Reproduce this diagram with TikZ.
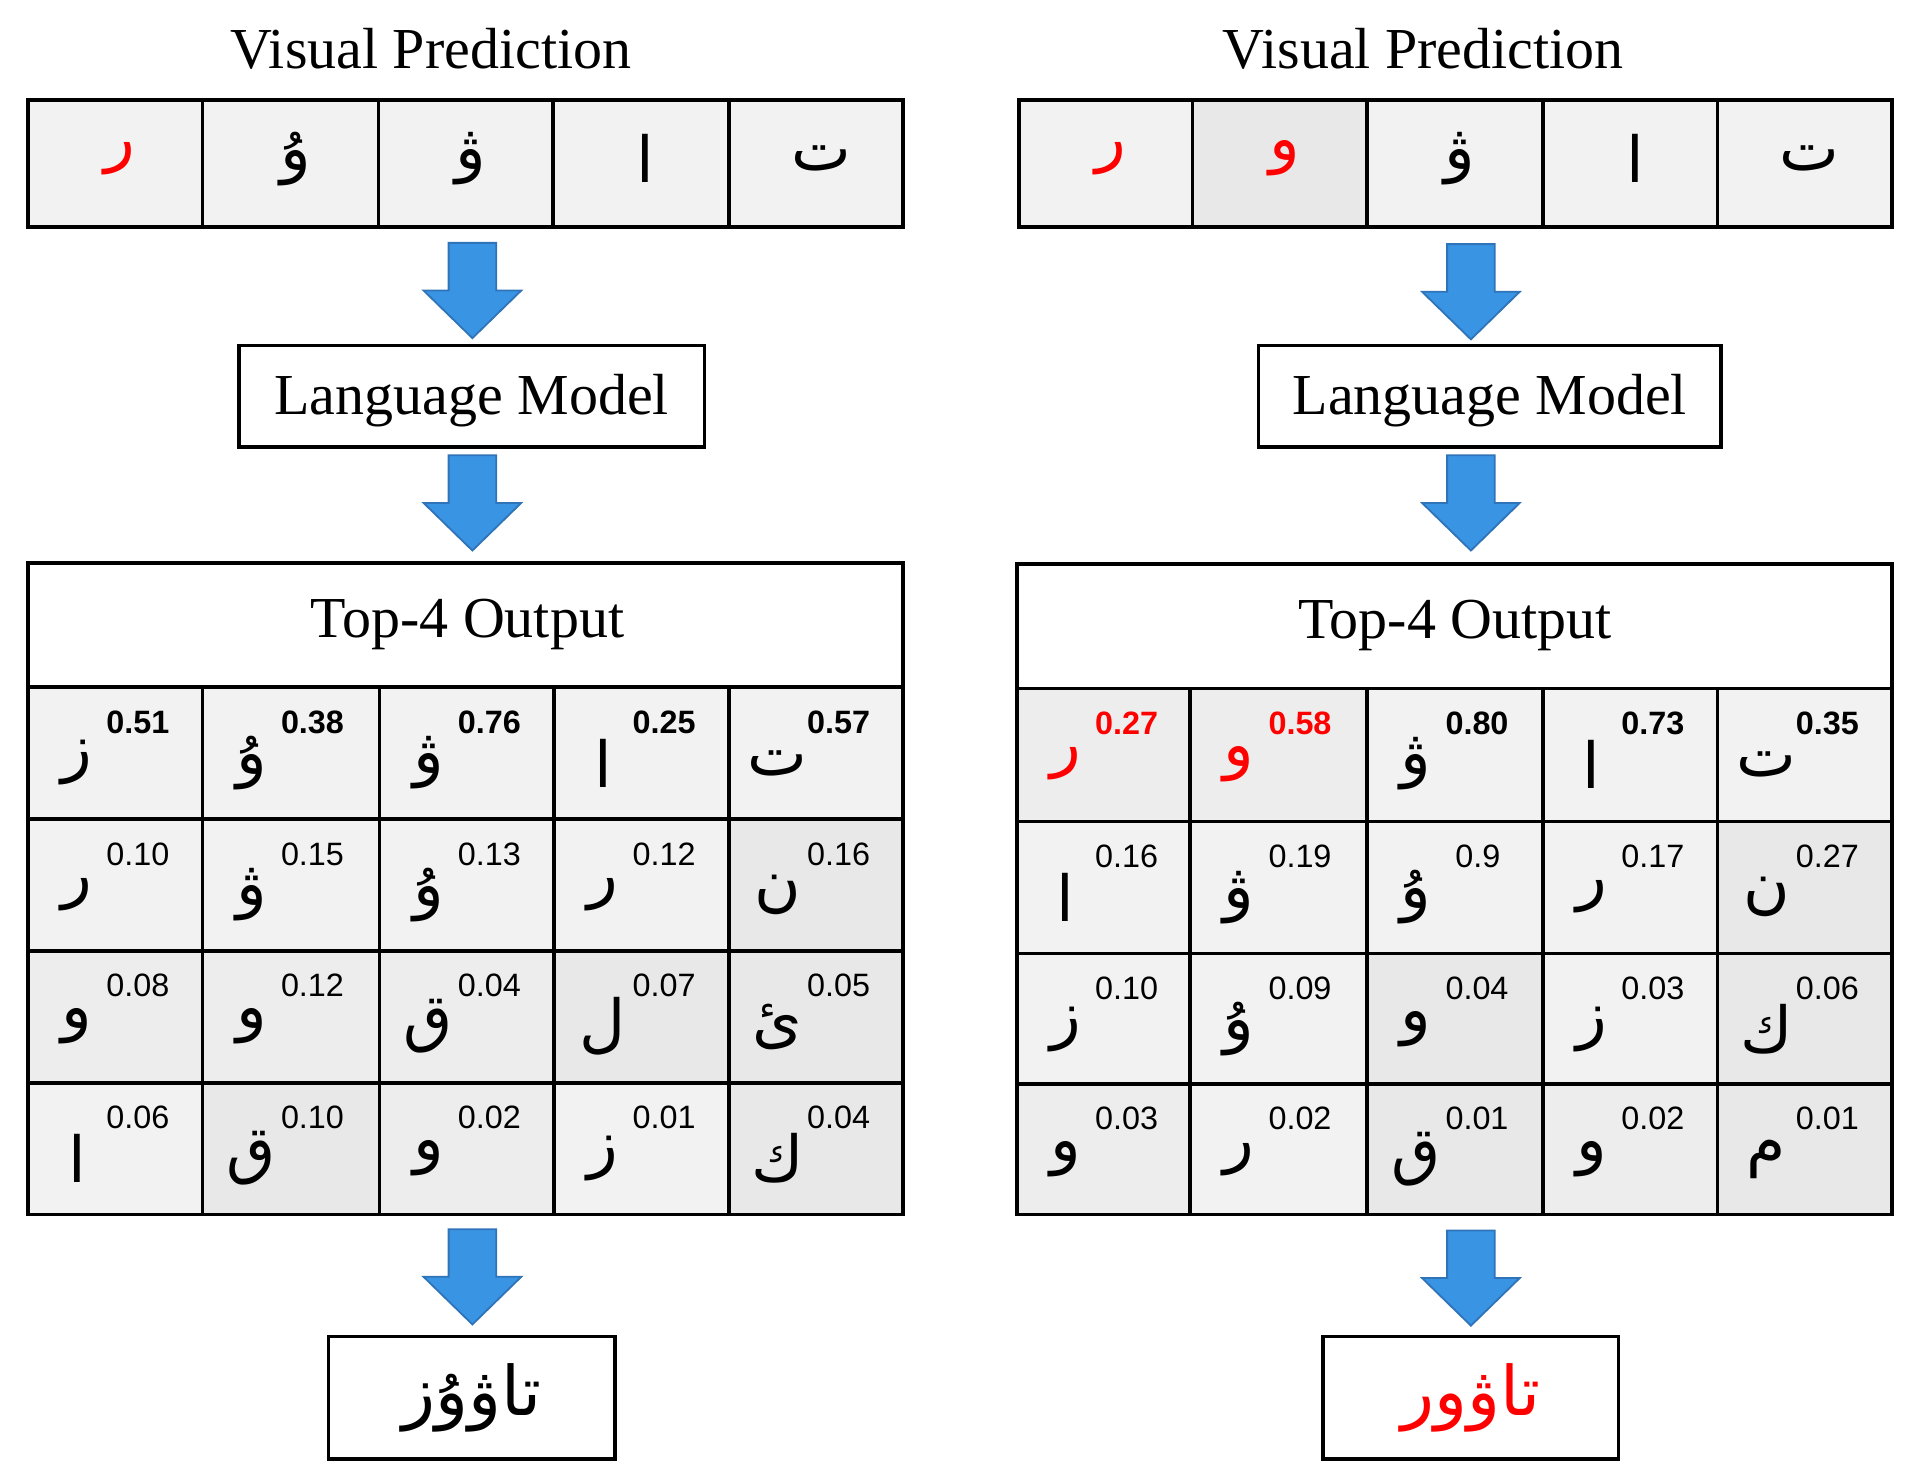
\documentclass[tikz,border=0pt]{standalone}
\usepackage{fontspec}
\setmainfont{Liberation Serif}
\newfontfamily\arabicfont[Script=Arabic]{DejaVu Sans}
\newfontfamily\numfont{Liberation Sans}
\TeXXeTstate=1
\definecolor{cA}{HTML}{F2F2F2}
\definecolor{cM}{HTML}{EDEDED}
\definecolor{cB}{HTML}{E8E8E8}
\definecolor{arrfill}{HTML}{3A94E4}
\definecolor{arrline}{HTML}{2F74B8}
\definecolor{ared}{HTML}{FF0000}
\tikzset{
  box/.style={draw=black, line width=3pt, fill=white, inner sep=0pt},
  cellbox/.style={draw=black, line width=3pt, inner sep=0pt},
  arletter/.style={font=\arabicfont\fontsize{52}{60}\selectfont, inner sep=0pt},
  numtext/.style={font=\numfont\fontsize{26.5}{30}\selectfont, inner sep=0pt, anchor=north west},
  titletext/.style={font=\fontsize{47.5}{55}\selectfont, inner sep=0pt},
  lmtext/.style={font=\fontsize{47.5}{55}\selectfont, text height=32pt, text depth=2pt},
  outtext/.style={font=\arabicfont\fontsize{56}{64}\selectfont, inner sep=0pt},
  barrow/.style={fill=arrfill, draw=arrline, line width=1.5pt, line join=miter},
}
% grid cell: name, left, top, right, bottom, fill, letter, number, colour
\newcommand\gcell[9]{%
  \pgfmathsetmacro\gcw{#4-#2}\pgfmathsetmacro\gch{#5-#3}%
  \node[cellbox, fill=#6, minimum width=\gcw pt, minimum height=\gch pt] (#1) at ({(#2+#4)/2},{(#3+#5)/2}) {};
  \node[arletter, text=#9] (#1l) at ({#2+40},{#3+62}) {\beginR #7\endR};
  \node[numtext, text=#9] (#1n) at ({#2+64},{#3+19}) {#8};
}
% visual cell: name, left, right, fill, letter, colour
\newcommand\vcell[6]{%
  \pgfmathsetmacro\gcw{#3-#2}%
  \node[cellbox, fill=#4, minimum width=\gcw pt, minimum height=104pt] (#1) at ({(#2+#3)/2},134) {};
  \node[arletter, text=#6] (#1l) at ({(#2+#3)/2+4},130) {\beginR #5\endR};
}
\newcommand\barrowat[1]{%
  \filldraw[barrow] (#1) ++(-19.5,0) -- ++(39,0) -- ++(0,39) -- ++(20.5,0) -- ++(-40,39) -- ++(-40,-39) -- ++(20.5,0) -- cycle;
}
\begin{document}
\begin{tikzpicture}[x=1pt, y=-1pt]
\useasboundingbox (0,0) rectangle (1568,1212);

% ---------------- left panel ----------------
\node[titletext, anchor=base] (titleL) at (353,56) {Visual Prediction};
\vcell{vL1}{23}{166}{cA}{ر}{ared}
\vcell{vL2}{166}{310}{cA}{ۇ}{black}
\vcell{vL3}{310}{453}{cA}{ۋ}{black}
\vcell{vL4}{453}{597}{cA}{ا}{black}
\vcell{vL5}{597}{740}{cA}{ت}{black}

\coordinate (aL1) at (387,199);
\barrowat{aL1}
\node[box, minimum width=381pt, minimum height=83pt, lmtext] (lmL) at (386.5,324.5) {Language Model};
\coordinate (aL2) at (387,373);
\barrowat{aL2}

\node[box, minimum width=717pt, minimum height=102pt] (hdL) at (381.5,512) {};
\node[titletext, anchor=base] (hdLt) at (383,522) {Top-4 Output};

\gcell{L11}{23}{563}{166}{671}{cA}{ز}{\bfseries 0.51}{black}
\gcell{L12}{166}{563}{311}{671}{cA}{ۇ}{\bfseries 0.38}{black}
\gcell{L13}{311}{563}{454}{671}{cA}{ۋ}{\bfseries 0.76}{black}
\gcell{L14}{454}{563}{597}{671}{cA}{ا}{\bfseries 0.25}{black}
\gcell{L15}{597}{563}{740}{671}{cA}{ت}{\bfseries 0.57}{black}

\gcell{L21}{23}{671}{166}{779}{cA}{ر}{0.10}{black}
\gcell{L22}{166}{671}{311}{779}{cA}{ۋ}{0.15}{black}
\gcell{L23}{311}{671}{454}{779}{cA}{ۇ}{0.13}{black}
\gcell{L24}{454}{671}{597}{779}{cA}{ر}{0.12}{black}
\gcell{L25}{597}{671}{740}{779}{cB}{ن}{0.16}{black}

\gcell{L31}{23}{779}{166}{887}{cM}{و}{0.08}{black}
\gcell{L32}{166}{779}{311}{887}{cM}{و}{0.12}{black}
\gcell{L33}{311}{779}{454}{887}{cM}{ق}{0.04}{black}
\gcell{L34}{454}{779}{597}{887}{cB}{ل}{0.07}{black}
\gcell{L35}{597}{779}{740}{887}{cB}{ئ}{0.05}{black}

\gcell{L41}{23}{887}{166}{995}{cA}{ا}{0.06}{black}
\gcell{L42}{166}{887}{311}{995}{cB}{ق}{0.10}{black}
\gcell{L43}{311}{887}{454}{995}{cM}{و}{0.02}{black}
\gcell{L44}{454}{887}{597}{995}{cA}{ز}{0.01}{black}
\gcell{L45}{597}{887}{740}{995}{cB}{ك}{0.04}{black}

\coordinate (aL3) at (387,1007);
\barrowat{aL3}
\node[box, minimum width=235pt, minimum height=100pt, outtext] (outL) at (386.5,1145) {\beginR تاۋۇز\endR};

% ---------------- right panel ----------------
\node[titletext, anchor=base] (titleR) at (1166,56) {Visual Prediction};
\vcell{vR1}{835}{977}{cA}{ر}{ared}
\vcell{vR2}{977}{1120}{cB}{و}{ared}
\vcell{vR3}{1120}{1264}{cA}{ۋ}{black}
\vcell{vR4}{1264}{1407}{cA}{ا}{black}
\vcell{vR5}{1407}{1550}{cA}{ت}{black}

\coordinate (aR1) at (1205,200);
\barrowat{aR1}
\node[box, minimum width=379pt, minimum height=83pt, lmtext] (lmR) at (1220.5,324.5) {Language Model};
\coordinate (aR2) at (1205,373);
\barrowat{aR2}

\node[box, minimum width=717pt, minimum height=102pt] (hdR) at (1191.5,513) {};
\node[titletext, anchor=base] (hdRt) at (1192,523) {Top-4 Output};

\gcell{R11}{833}{564}{975}{673}{cM}{ر}{\bfseries 0.27}{ared}
\gcell{R12}{975}{564}{1120}{673}{cM}{و}{\bfseries 0.58}{ared}
\gcell{R13}{1120}{564}{1264}{673}{cA}{ۋ}{\bfseries 0.80}{black}
\gcell{R14}{1264}{564}{1407}{673}{cA}{ا}{\bfseries 0.73}{black}
\gcell{R15}{1407}{564}{1550}{673}{cA}{ت}{\bfseries 0.35}{black}

\gcell{R21}{833}{673}{975}{781}{cA}{ا}{0.16}{black}
\gcell{R22}{975}{673}{1120}{781}{cA}{ۋ}{0.19}{black}
\gcell{R23}{1120}{673}{1264}{781}{cA}{ۇ}{\hspace*{8pt}0.9}{black}
\gcell{R24}{1264}{673}{1407}{781}{cA}{ر}{0.17}{black}
\gcell{R25}{1407}{673}{1550}{781}{cB}{ن}{0.27}{black}

\gcell{R31}{833}{781}{975}{888}{cA}{ز}{0.10}{black}
\gcell{R32}{975}{781}{1120}{888}{cA}{ۇ}{0.09}{black}
\gcell{R33}{1120}{781}{1264}{888}{cB}{و}{0.04}{black}
\gcell{R34}{1264}{781}{1407}{888}{cA}{ز}{0.03}{black}
\gcell{R35}{1407}{781}{1550}{888}{cB}{ك}{0.06}{black}

\gcell{R41}{833}{888}{975}{995}{cM}{و}{0.03}{black}
\gcell{R42}{975}{888}{1120}{995}{cA}{ر}{0.02}{black}
\gcell{R43}{1120}{888}{1264}{995}{cB}{ق}{0.01}{black}
\gcell{R44}{1264}{888}{1407}{995}{cM}{و}{0.02}{black}
\gcell{R45}{1407}{888}{1550}{995}{cB}{م}{0.01}{black}

\coordinate (aR3) at (1205,1008);
\barrowat{aR3}
\node[box, minimum width=242pt, minimum height=100pt, outtext, text=ared] (outR) at (1205,1145) {\beginR تاۋور\endR};
\end{tikzpicture}
\end{document}
